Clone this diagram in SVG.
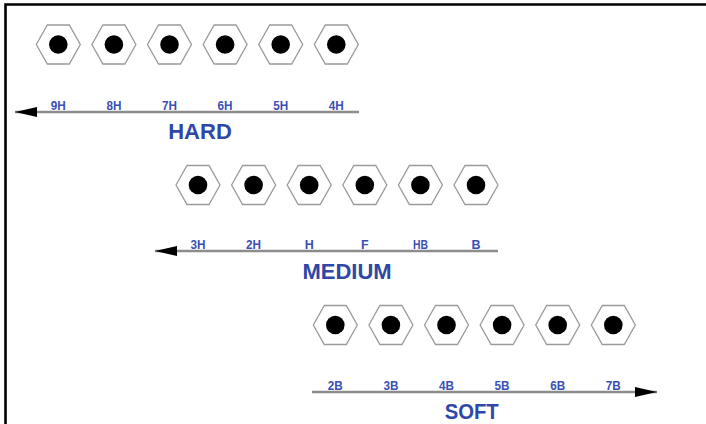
<svg xmlns="http://www.w3.org/2000/svg" width="706" height="424" viewBox="0 0 706 424">
<style>
.hex{fill:#fff;stroke:#9a9a9a;stroke-width:1.3}
.dot{fill:#000}
.axis{stroke:#8c8c8c;stroke-width:2.4;fill:none}
.lbl{font-family:"Liberation Sans",Arial,sans-serif;font-weight:bold;font-size:12.5px;fill:#3a4fb5;text-anchor:middle}
.title{font-family:"Liberation Sans",Arial,sans-serif;font-weight:bold;font-size:22px;fill:#2f47a6;text-anchor:middle}
</style>
<defs>
<g id="pencil">
<polygon class="hex" points="-22,0 -11,-19.5 11,-19.5 22,0 11,19.5 -11,19.5"/>
<circle class="dot" r="9.3"/>
</g>
<marker id="ah" viewBox="0 0 22 10" refX="22" refY="5" markerWidth="22" markerHeight="10" markerUnits="userSpaceOnUse" orient="auto">
<path d="M0,0 L22,5 L0,10 Z" fill="#000"/>
</marker>
</defs>
<rect width="706" height="424" fill="#fff"/>
<path d="M5.5,424 V4.5 H706" fill="none" stroke="#000" stroke-width="2.6"/>

<g id="hard">
<use href="#pencil" x="58.3" y="44.5"/>
<use href="#pencil" x="113.9" y="44.5"/>
<use href="#pencil" x="169.5" y="44.5"/>
<use href="#pencil" x="225.1" y="44.5"/>
<use href="#pencil" x="280.7" y="44.5"/>
<use href="#pencil" x="336.3" y="44.5"/>
<text class="lbl" x="58.3" y="109.5" textLength="15" lengthAdjust="spacingAndGlyphs">9H</text>
<text class="lbl" x="113.9" y="109.5" textLength="15" lengthAdjust="spacingAndGlyphs">8H</text>
<text class="lbl" x="169.5" y="109.5" textLength="15" lengthAdjust="spacingAndGlyphs">7H</text>
<text class="lbl" x="225.1" y="109.5" textLength="15" lengthAdjust="spacingAndGlyphs">6H</text>
<text class="lbl" x="280.7" y="109.5" textLength="15" lengthAdjust="spacingAndGlyphs">5H</text>
<text class="lbl" x="336.3" y="109.5" textLength="15" lengthAdjust="spacingAndGlyphs">4H</text>
<text class="title" x="200" y="138.5">HARD</text>
</g>

<g id="medium">
<use href="#pencil" x="198" y="185"/>
<use href="#pencil" x="253.6" y="185"/>
<use href="#pencil" x="309.2" y="185"/>
<use href="#pencil" x="364.8" y="185"/>
<use href="#pencil" x="420.4" y="185"/>
<use href="#pencil" x="476" y="185"/>
<text class="lbl" x="198" y="249" textLength="15" lengthAdjust="spacingAndGlyphs">3H</text>
<text class="lbl" x="253.6" y="249" textLength="15" lengthAdjust="spacingAndGlyphs">2H</text>
<text class="lbl" x="309.2" y="249">H</text>
<text class="lbl" x="364.8" y="249">F</text>
<text class="lbl" x="420.4" y="249" textLength="15" lengthAdjust="spacingAndGlyphs">HB</text>
<text class="lbl" x="476" y="249">B</text>
<text class="title" x="347" y="278.5">MEDIUM</text>
</g>

<g id="soft">
<use href="#pencil" x="335.3" y="325"/>
<use href="#pencil" x="390.9" y="325"/>
<use href="#pencil" x="446.5" y="325"/>
<use href="#pencil" x="502.1" y="325"/>
<use href="#pencil" x="557.7" y="325"/>
<use href="#pencil" x="613.3" y="325"/>
<text class="lbl" x="335.3" y="390" textLength="15" lengthAdjust="spacingAndGlyphs">2B</text>
<text class="lbl" x="390.9" y="390" textLength="15" lengthAdjust="spacingAndGlyphs">3B</text>
<text class="lbl" x="446.5" y="390" textLength="15" lengthAdjust="spacingAndGlyphs">4B</text>
<text class="lbl" x="502.1" y="390" textLength="15" lengthAdjust="spacingAndGlyphs">5B</text>
<text class="lbl" x="557.7" y="390" textLength="15" lengthAdjust="spacingAndGlyphs">6B</text>
<text class="lbl" x="613.3" y="390" textLength="15" lengthAdjust="spacingAndGlyphs">7B</text>
<text class="title" x="471.7" y="418.5" textLength="54" lengthAdjust="spacingAndGlyphs">SOFT</text>
</g>

<g id="connectors">
<line class="axis" x1="359" y1="112" x2="15" y2="112" marker-end="url(#ah)"/>
<line class="axis" x1="498" y1="251" x2="155" y2="251" marker-end="url(#ah)"/>
<line class="axis" x1="312" y1="392" x2="657" y2="392" marker-end="url(#ah)"/>
</g>
</svg>
